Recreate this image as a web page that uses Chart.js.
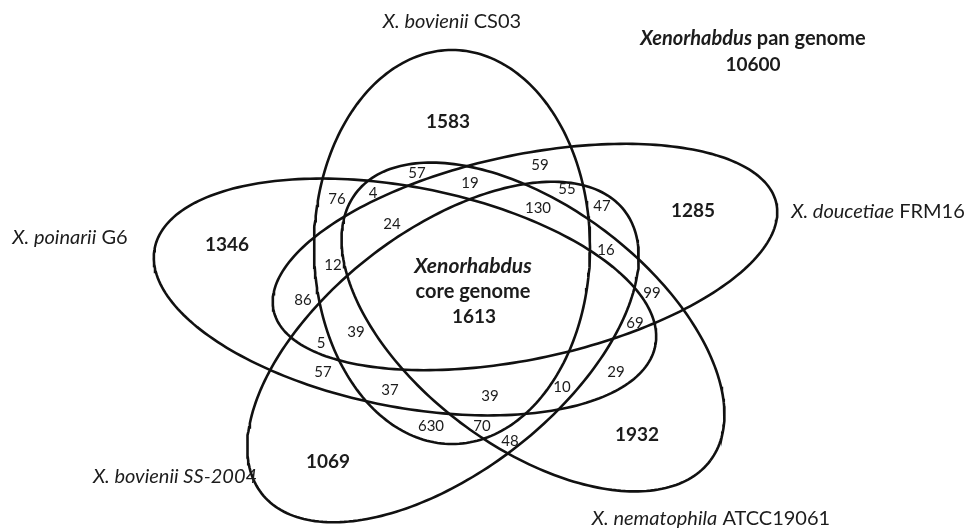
<!DOCTYPE html>
<html>
<head>
<meta charset="utf-8">
<script src="https://cdn.jsdelivr.net/npm/chart.js@4.4.1/dist/chart.umd.min.js"></script>
<style>
  html, body { margin: 0; padding: 0; background: #fff; }
</style>
</head>
<body>
<canvas id="venn-chart" width="968" height="530"></canvas>
<script>
// genomes (sets) - italic species part + strain
var species = ['X. bovienii', 'X. doucetiae', 'X. nematophila', 'X. bovienii SS-2004', 'X. poinarii'];
var strains = ['CS03', 'FRM16', 'ATCC19061', '', 'G6'];
// genes only found in one genome
var uniqueGenes = [1583, 1285, 1932, 1069, 1346];
// shared gene counts of the other regions
var sharedGenes = [57, 19, 59, 55, 130, 47, 16, 99, 69, 29, 10, 39, 48, 70, 630, 37, 57, 5, 39, 86, 12, 76, 4, 24];
var coreGenome = 1613;
var panGenome = 10600;

// layout (in pixel units of the plot)
var ellipses = [
  { cx: 452, cy: 247, rx: 138, ry: 197, rot: 0 },
  { cx: 525, cy: 257, rx: 257, ry: 102, rot: -12 },
  { cx: 533, cy: 327, rx: 222, ry: 120, rot: 37 },
  { cx: 443, cy: 352, rx: 230, ry: 120, rot: -38 },
  { cx: 405, cy: 297, rx: 255, ry: 110, rot: 11 }
];
var namePos = [[452, 22], [878, 212], [711, 519], [175, 477], [70, 238]];
var uniquePos = [[448, 122], [693, 211], [637, 435], [328, 462], [227, 245]];
var sharedPos = [[417, 173], [470, 183], [540, 165], [567, 189], [538, 208], [602, 206], [606, 250],
  [652, 293], [635, 323], [616, 372], [562, 387], [490, 396], [510, 441], [482, 426], [431, 426],
  [390, 390], [323, 372], [321, 343], [356, 332], [303, 300], [333, 265], [337, 199], [373, 193], [392, 224]];

var FONT = 'Lato, "Open Sans", sans-serif';
var INK = '#1c1c1c';

function ellipsePoints(e) {
  var pts = [];
  var th = e.rot * Math.PI / 180;
  for (var i = 0; i <= 240; i++) {
    var t = i / 240 * Math.PI * 2;
    var ux = e.rx * Math.cos(t), uy = e.ry * Math.sin(t);
    pts.push({ x: e.cx + ux * Math.cos(th) - uy * Math.sin(th), y: e.cy + ux * Math.sin(th) + uy * Math.cos(th) });
  }
  return pts;
}

// draw a line made of parts with different fonts, centred on x
function richText(ctx, parts, x, y) {
  var w = 0;
  parts.forEach(function (p) { ctx.font = p.font; w += ctx.measureText(p.text).width; });
  var sx = x - w / 2;
  parts.forEach(function (p) {
    ctx.font = p.font;
    ctx.fillText(p.text, sx, y);
    sx += ctx.measureText(p.text).width;
  });
}

var labelPlugin = {
  id: 'vennLabels',
  afterDatasetsDraw: function (chart) {
    var ctx = chart.ctx, xs = chart.scales.x, ys = chart.scales.y;
    function px(p) { return [xs.getPixelForValue(p[0]), ys.getPixelForValue(p[1])]; }
    ctx.save();
    ctx.fillStyle = INK;
    ctx.textBaseline = 'middle';
    ctx.textAlign = 'left';

    species.forEach(function (s, i) {
      var p = px(namePos[i]);
      var parts = [{ text: s, font: 'italic 20px ' + FONT }];
      if (strains[i]) parts.push({ text: ' ' + strains[i], font: '20px ' + FONT });
      richText(ctx, parts, p[0], p[1]);
    });

    uniqueGenes.forEach(function (v, i) {
      var p = px(uniquePos[i]);
      richText(ctx, [{ text: String(v), font: 'bold 19px ' + FONT }], p[0], p[1]);
    });

    sharedGenes.forEach(function (v, i) {
      var p = px(sharedPos[i]);
      richText(ctx, [{ text: String(v), font: '15px ' + FONT }], p[0], p[1]);
    });

    var c = px([473, 266]);
    richText(ctx, [{ text: 'Xenorhabdus', font: 'italic bold 21px ' + FONT }], c[0], c[1]);
    c = px([473, 292]);
    richText(ctx, [{ text: 'core genome', font: 'bold 20px ' + FONT }], c[0], c[1]);
    c = px([474, 317]);
    richText(ctx, [{ text: String(coreGenome), font: 'bold 19px ' + FONT }], c[0], c[1]);

    c = px([753, 39]);
    richText(ctx, [{ text: 'Xenorhabdus', font: 'italic bold 20px ' + FONT }, { text: ' pan genome', font: 'bold 20px ' + FONT }], c[0], c[1]);
    c = px([753, 65]);
    richText(ctx, [{ text: String(panGenome), font: 'bold 19px ' + FONT }], c[0], c[1]);
    ctx.restore();
  }
};

var ctx = document.getElementById('venn-chart').getContext('2d');
var vennChart = new Chart(ctx, {
  type: 'scatter',
  data: {
    datasets: ellipses.map(function (e, i) {
      return {
        label: species[i] + ' ' + strains[i],
        data: ellipsePoints(e),
        showLine: true,
        fill: false,
        borderColor: '#111',
        borderWidth: 2.6,
        pointRadius: 0,
        pointHoverRadius: 0,
        tension: 0
      };
    })
  },
  options: {
    responsive: false,
    animation: false,
    events: [],
    layout: { padding: 0 },
    scales: {
      x: { type: 'linear', min: 0, max: 968, display: false },
      y: { type: 'linear', min: 0, max: 530, reverse: true, display: false }
    },
    plugins: {
      legend: { display: false },
      tooltip: { enabled: false }
    }
  },
  plugins: [labelPlugin]
});
</script>
</body>
</html>
